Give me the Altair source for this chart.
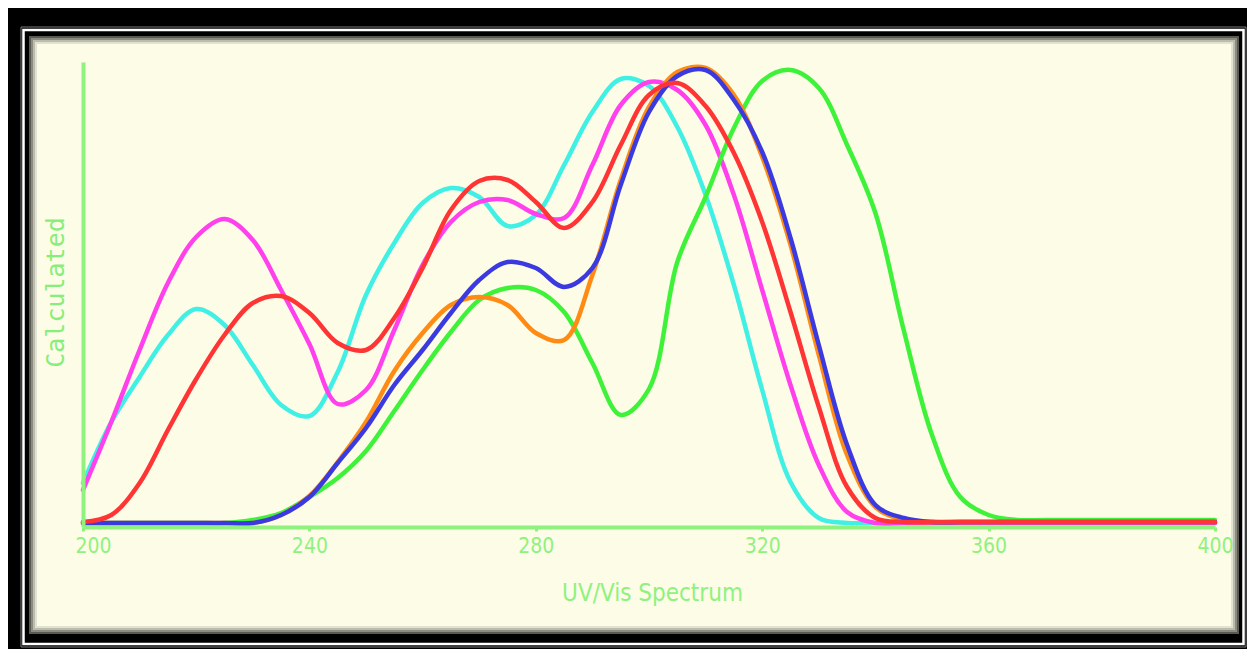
import altair as alt
import pandas as pd

# ---- data (arbitrary intensity units, 0 = axis) ----
wavelength = [200, 205, 210, 215, 220, 225, 230, 235, 240, 245, 250, 255, 260, 265,
              270, 275, 280, 285, 290, 295, 300, 305, 310, 315, 320, 325, 330, 335,
              340, 345, 350, 355, 360, 365, 370, 375, 380, 385, 390, 395, 400]

cyan = [44, 105, 150, 192, 218, 202, 162, 122, 111, 155, 232, 284, 324, 339,
        330, 301, 312, 362, 415, 448, 441, 400, 332, 242, 137, 45, 9, 4,
        4, 4, 4, 4, 4, 4, 4, 4, 4, 4, 4, 4, 4]
magenta = [37, 105, 177, 244, 290, 308, 287, 237, 183, 123, 137, 197, 262, 305,
           325, 327, 313, 309, 362, 422, 445, 437, 402, 332, 237, 142, 62, 15,
           4, 4, 4, 4, 4, 4, 4, 4, 4, 4, 4, 4, 4]
green = [4, 4, 4, 4, 4, 4, 7, 14, 30, 49, 76, 116, 157, 195,
         227, 239, 237, 215, 164, 112, 138, 265, 330, 399, 446, 457, 439, 382,
         314, 197, 92, 30, 12, 7, 7, 7, 7, 7, 7, 7, 7]
orange = [4, 4, 4, 4, 4, 4, 4, 12, 31, 65, 105, 156, 194, 222,
          230, 222, 194, 187, 252, 347, 420, 455, 459, 432, 370, 282, 172, 72,
          20, 7, 5, 5, 5, 5, 5, 5, 5, 5, 5, 5, 5]
blue = [4, 4, 4, 4, 4, 4, 4, 12, 30, 64, 99, 142, 177, 214,
        247, 265, 259, 240, 259, 342, 415, 451, 457, 427, 375, 289, 182, 82,
        22, 9, 5, 5, 5, 5, 5, 5, 5, 5, 5, 5, 5]
red = [5, 12, 44, 97, 148, 192, 224, 231, 214, 184, 177, 209, 259, 317,
       346, 347, 325, 299, 325, 382, 432, 444, 421, 374, 305, 215, 120, 40,
       9, 5, 5, 5, 5, 5, 5, 5, 5, 5, 5, 5, 5]

series_names = ["cyan", "magenta", "green", "orange", "blue", "red"]
series_values = [cyan, magenta, green, orange, blue, red]
series_colors = ["#40f0e4", "#ff40ec", "#3ef23a", "#ff8a14", "#3a3ae0", "#ff3434"]

x_ticks = [200, 240, 280, 320, 360, 400]

# ---- styles ----
AXIS_GREEN = "#8ff27e"
TITLE_GREEN = "#86ee7a"
CREAM = "#fdfce6"
NARROW = "Liberation Sans Narrow, DejaVu Sans Condensed, sans-serif"

x_enc = alt.X(
    "wavelength:Q",
    scale=alt.Scale(domain=[200, 400], nice=False, zero=False),
    axis=alt.Axis(
        values=x_ticks, format="d", grid=False, zindex=1,
        title="UV/Vis Spectrum",
        domainColor=AXIS_GREEN, domainWidth=4,
        tickColor=AXIS_GREEN, tickWidth=3, tickSize=4,
        labelColor=AXIS_GREEN, labelFont=NARROW,
        labelFontSize=21, labelPadding=4, labelFlush=False, labelOverlap=False,
        labelOffset={"condition": {"test": "datum.value === 200", "value": 10}, "value": 0},
        titleColor=AXIS_GREEN, titleFont=NARROW,
        titleFontSize=24, titleFontWeight="normal",
        titleX=569, titleY=73, titleAlign="center", titleBaseline="alphabetic",
    ),
)
y_enc = alt.Y(
    "value:Q",
    scale=alt.Scale(domain=[0, 465], nice=False, zero=True),
    axis=alt.Axis(
        labels=False, ticks=False, grid=False, zindex=1,
        title="Calculated",
        domainColor=AXIS_GREEN, domainWidth=4,
        titleColor=TITLE_GREEN, titleFont="DejaVu Sans Mono",
        titleFontSize=25, titleFontWeight="normal",
        titleAngle=270, titleX=-20, titleY=230,
        titleAlign="center", titleBaseline="alphabetic",
    ),
)

# ---- decorative frame (plot-relative pixels) ----
frame_src = pd.DataFrame({"frame": [0]})


def frame_rect(x1, y1, x2, y2, fill=None, stroke=None, width=0):
    kw = {}
    if fill is not None:
        kw["fill"] = fill
    else:
        kw["filled"] = False
        kw["fillOpacity"] = 0
    if stroke is not None:
        kw["stroke"] = stroke
        kw["strokeWidth"] = width
    return alt.Chart(frame_src).mark_rect(**kw).encode(
        x=alt.value(x1), x2=alt.value(x2), y=alt.value(y1), y2=alt.value(y2)
    )


frame_layers = [
    frame_rect(-62, -35, 1163, 585, stroke="#7a7a7a", width=1),
    frame_rect(-59.5, -32, 1160.5, 582, stroke="#ffffff", width=2.5),
    frame_rect(-54, -26, 1156, 572, fill=CREAM),
    frame_rect(-53, -25, 1155, 571, stroke="#5a5a50", width=2),
    frame_rect(-51, -23, 1153, 569, stroke="#8c8c80", width=2),
    frame_rect(-49, -21, 1151, 567, stroke="#bcbcae", width=2),
    frame_rect(-47, -19, 1149, 565, stroke="#e2e2d2", width=2),
]

line_layers = []
for name, vals, col in zip(series_names, series_values, series_colors):
    df = pd.DataFrame({"wavelength": wavelength, "value": vals, "series": name})
    line_layers.append(
        alt.Chart(df).mark_line(
            color=col, strokeWidth=4.5, interpolate="catmull-rom", strokeCap="round"
        ).encode(x=x_enc, y=y_enc)
    )

chart = alt.layer(*frame_layers, *line_layers).properties(
    width=1132,
    height=465,
    padding={"left": 75, "top": 54, "right": 32, "bottom": 122},
    autosize=alt.AutoSizeParams(type="none"),
    background="black",
).configure_view(stroke=None, fill=None)

chart.save("out.html", embed_options={"renderer": "svg", "actions": False})
